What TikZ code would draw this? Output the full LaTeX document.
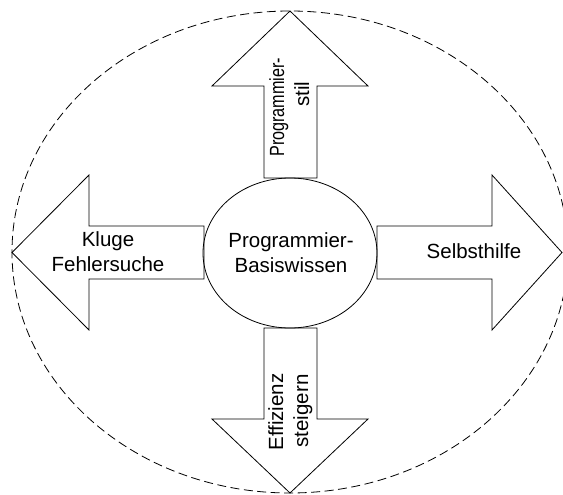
\documentclass[tikz,border=0pt]{standalone}
\usepackage{fontspec}
\setmainfont{Liberation Sans}
\usetikzlibrary{shapes.geometric}
\begin{document}
\begin{tikzpicture}[x=1pt,y=-1pt,
  shapeline/.style={draw=black, line width=0.8pt, line join=miter},
  lbl/.style={inner sep=0pt, anchor=base, font=\fontsize{20.5}{25}\selectfont},
  vlbl/.style={lbl, rotate=90}]
\useasboundingbox (0,0) rectangle (563,495);
% outer dashed ellipse
\draw[black, line width=0.8pt, dash pattern=on 9pt off 4.5pt]
  (290,252) ellipse [x radius=278, y radius=241];
% arrows
\draw[shapeline] (290,11) -- (368,86) -- (317,86) -- (317,178) -- (264,178) -- (264,86) -- (212,86) -- cycle;
\draw[shapeline] (290,493) -- (368,419) -- (317,419) -- (317,328) -- (264,328) -- (264,419) -- (212,419) -- cycle;
\draw[shapeline] (12,252.5) -- (89,175) -- (89,226) -- (204,226) -- (204,279) -- (89,279) -- (89,330) -- cycle;
\draw[shapeline] (562,252.5) -- (492,175) -- (492,226) -- (377,226) -- (377,279) -- (492,279) -- (492,330) -- cycle;
% central ellipse
\node[ellipse, shapeline, minimum width=174pt, minimum height=150pt, inner sep=0pt] (core) at (290,253) {};
% texts
\node[lbl] (core1) at (291,247) {Programmier-};
\node[lbl] (core2) at (291,272) {Basiswissen};
\node[lbl] (left1) at (108,246) {Kluge};
\node[lbl] (left2) at (108,271) {Fehlersuche};
\node[lbl] (right1) at (474,258) {Selbsthilfe};
\node[vlbl, anchor=base west] (up1) at (284,157) {\scalebox{0.79}[1]{Programmier-}};
\node[vlbl] (up2) at (309,94) {stil};
\node[vlbl] (down1) at (283,412) {Effizienz};
\node[vlbl] (down2) at (308,411) {steigern};
\end{tikzpicture}
\end{document}
